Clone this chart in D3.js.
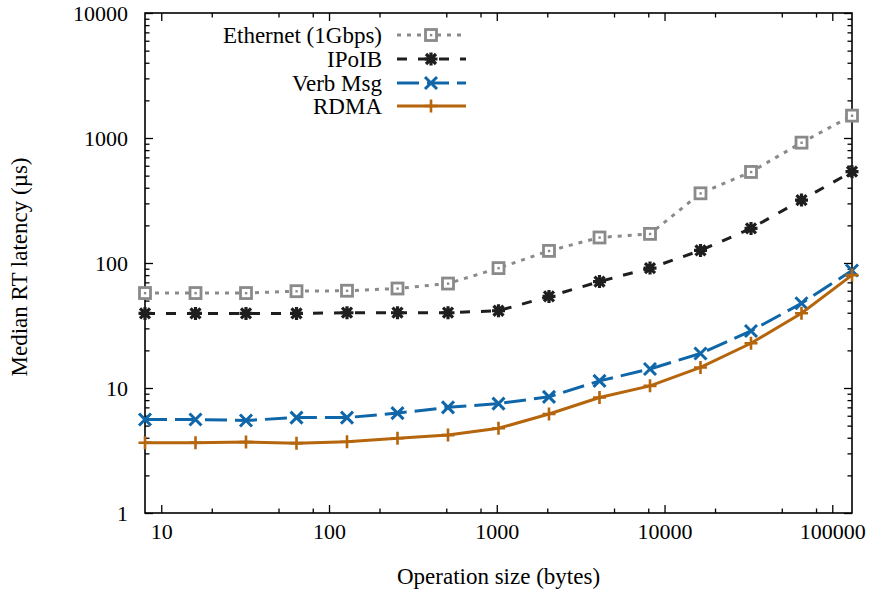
<!DOCTYPE html>
<html>
<head>
<meta charset="utf-8">
<script src="https://cdn.jsdelivr.net/npm/d3@7"></script>
<style>
  body { margin: 0; background: #fff; }
  text { font-family: "Liberation Serif", "Times New Roman", serif; fill: #000; }
</style>
</head>
<body>
<div id="chart"></div>
<script>
// operation sizes (bytes)
let sizes = [8, 16, 32, 64, 128, 256, 512, 1024, 2048, 4096, 8192, 16384, 32768, 65536, 131072];

// median round-trip latency (us)
let ethernet = [57.5, 57.5, 57.5, 59.5, 60, 62.5, 68.5, 91, 125, 160, 171, 361, 535, 918, 1510];
let ipoib = [39.5, 39.5, 39.5, 39.5, 40, 40, 40, 41.5, 54, 71, 91, 126, 189, 319, 538];
let verbMsg = [5.6, 5.6, 5.5, 5.8, 5.8, 6.3, 7.0, 7.5, 8.5, 11.4, 14.2, 18.9, 28.6, 47.6, 87];
let rdma = [3.65, 3.65, 3.7, 3.62, 3.72, 3.96, 4.2, 4.76, 6.2, 8.4, 10.4, 14.6, 22.8, 39.6, 80];

let seriesNames = ["Ethernet (1Gbps)", "IPoIB", "Verb Msg", "RDMA"];

let xMajor = [10, 100, 1000, 10000, 100000];
let yMajor = [1, 10, 100, 1000, 10000];

let width = 873;
let height = 593;
let plotLeft = 145, plotRight = 852, plotTop = 13, plotBottom = 513;
let tickFont = 22;
let labelFont = 23;

let svg = d3.select("#chart")
  .append("svg")
  .attr("width", width)
  .attr("height", height);

let xScale = d3.scaleLog().domain([8, 131072]).range([plotLeft, plotRight]);
let yScale = d3.scaleLog().domain([1, 10000]).range([plotBottom, plotTop]);

// minor ticks: x at 2,5,8 per decade, y at 2..9
let xMinor = [];
[1, 10, 100, 1000, 10000, 100000].forEach(function(d) {
  [2, 5, 8].forEach(function(m) {
    let v = d * m;
    if (v > 8 && v < 131072) xMinor.push(v);
  });
});
let yMinor = [];
[1, 10, 100, 1000].forEach(function(d) {
  for (let m = 2; m <= 9; m++) yMinor.push(d * m);
});

function styleAxis(g) {
  g.select(".domain").remove();
  g.selectAll("line").attr("stroke", "#000").attr("stroke-width", 1.3);
  g.selectAll("text")
    .style("font-family", "Liberation Serif, Times New Roman, serif")
    .style("font-size", tickFont + "px")
    .attr("fill", "#000");
}

let fmt = function(d) { return String(d); };

// bottom
svg.append("g")
  .attr("transform", "translate(0," + plotBottom + ")")
  .call(d3.axisBottom(xScale).tickValues(xMajor).tickFormat(fmt)
    .tickSizeInner(-8).tickSizeOuter(0).tickPadding(10))
  .call(styleAxis);
svg.append("g")
  .attr("transform", "translate(0," + plotBottom + ")")
  .call(d3.axisBottom(xScale).tickValues(xMinor).tickFormat("")
    .tickSizeInner(-4.5).tickSizeOuter(0))
  .call(styleAxis);
// top
svg.append("g")
  .attr("transform", "translate(0," + plotTop + ")")
  .call(d3.axisTop(xScale).tickValues(xMajor).tickFormat("")
    .tickSizeInner(-8).tickSizeOuter(0))
  .call(styleAxis);
svg.append("g")
  .attr("transform", "translate(0," + plotTop + ")")
  .call(d3.axisTop(xScale).tickValues(xMinor).tickFormat("")
    .tickSizeInner(-4.5).tickSizeOuter(0))
  .call(styleAxis);
// left
svg.append("g")
  .attr("transform", "translate(" + plotLeft + ",0)")
  .call(d3.axisLeft(yScale).tickValues(yMajor).tickFormat(fmt)
    .tickSizeInner(-8).tickSizeOuter(0).tickPadding(17))
  .call(styleAxis);
svg.append("g")
  .attr("transform", "translate(" + plotLeft + ",0)")
  .call(d3.axisLeft(yScale).tickValues(yMinor).tickFormat("")
    .tickSizeInner(-4.5).tickSizeOuter(0))
  .call(styleAxis);
// right
svg.append("g")
  .attr("transform", "translate(" + plotRight + ",0)")
  .call(d3.axisRight(yScale).tickValues(yMajor).tickFormat("")
    .tickSizeInner(-8).tickSizeOuter(0))
  .call(styleAxis);
svg.append("g")
  .attr("transform", "translate(" + plotRight + ",0)")
  .call(d3.axisRight(yScale).tickValues(yMinor).tickFormat("")
    .tickSizeInner(-4.5).tickSizeOuter(0))
  .call(styleAxis);

// frame
svg.append("rect")
  .attr("x", plotLeft)
  .attr("y", plotTop)
  .attr("width", plotRight - plotLeft)
  .attr("height", plotBottom - plotTop)
  .attr("fill", "none")
  .attr("stroke", "#000")
  .attr("stroke-width", 1.6);

// axis titles
svg.append("text")
  .attr("x", (plotLeft + plotRight) / 2)
  .attr("y", 584)
  .attr("text-anchor", "middle")
  .style("font-size", labelFont + "px")
  .text("Operation size (bytes)");

svg.append("text")
  .attr("transform", "translate(27," + 267 + ")rotate(-90)")
  .attr("text-anchor", "middle")
  .style("font-size", labelFont + "px")
  .text("Median RT latency (\u00b5s)");

// markers
function marker(g, type, color) {
  if (type === "square") {
    g.append("rect").attr("x", -5.5).attr("y", -5.5).attr("width", 11).attr("height", 11)
      .attr("fill", "#fff").attr("stroke", color).attr("stroke-width", 2.8);
    g.append("rect").attr("x", -1.1).attr("y", -1.1).attr("width", 2.4).attr("height", 2.4)
      .attr("fill", color);
  }
  else if (type === "star") {
    g.append("path").attr("d", "M-5,-5L5,5M-5,5L5,-5M-6.5,0L6.5,0M0,-6.5L0,6.5")
      .attr("stroke", color).attr("stroke-width", 3.2).attr("fill", "none");
  }
  else if (type === "cross") {
    g.append("path").attr("d", "M-6,-6L6,6M-6,6L6,-6")
      .attr("stroke", color).attr("stroke-width", 3).attr("fill", "none");
  }
  else {
    g.append("path").attr("d", "M-6.5,0L6.5,0M0,-6.5L0,6.5")
      .attr("stroke", color).attr("stroke-width", 2.6).attr("fill", "none");
  }
}

let series = [
  { name: seriesNames[0], values: ethernet, color: "#8a8a8a", dash: "4,6", type: "square" },
  { name: seriesNames[1], values: ipoib, color: "#1e1e1e", dash: "10,11", type: "star" },
  { name: seriesNames[2], values: verbMsg, color: "#0f66a8", dash: "22,8", type: "cross" },
  { name: seriesNames[3], values: rdma, color: "#b5650c", dash: null, type: "plus" }
];

let line = d3.line()
  .x(function(d) { return xScale(d[0]); })
  .y(function(d) { return yScale(d[1]); });

series.forEach(function(s) {
  let pts = sizes.map(function(x, i) { return [x, s.values[i]]; });
  svg.append("path")
    .datum(pts)
    .attr("d", line)
    .attr("fill", "none")
    .attr("stroke", s.color)
    .attr("stroke-width", 3)
    .attr("stroke-dasharray", s.dash);
  pts.forEach(function(p) {
    let g = svg.append("g")
      .attr("transform", "translate(" + xScale(p[0]) + "," + yScale(p[1]) + ")");
    marker(g, s.type, s.color);
  });
});

// legend
let legendY = [35, 59, 83, 106];
series.forEach(function(s, i) {
  let y = legendY[i];
  svg.append("text")
    .attr("x", 382)
    .attr("y", y)
    .attr("dy", "0.33em")
    .attr("text-anchor", "end")
    .style("font-size", labelFont + "px")
    .text(s.name);
  svg.append("line")
    .attr("x1", 397).attr("x2", 466)
    .attr("y1", y).attr("y2", y)
    .attr("stroke", s.color)
    .attr("stroke-width", 3)
    .attr("stroke-dasharray", s.dash);
  let g = svg.append("g").attr("transform", "translate(431," + y + ")");
  marker(g, s.type, s.color);
});
</script>
</body>
</html>
